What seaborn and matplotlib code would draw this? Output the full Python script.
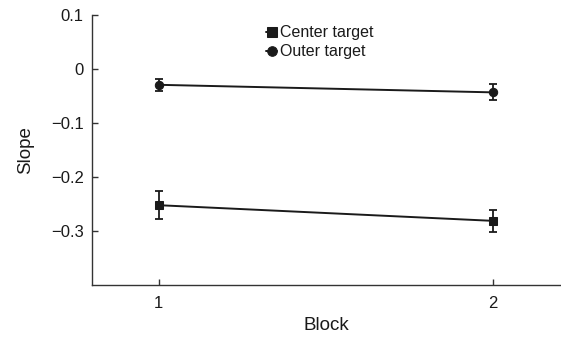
import matplotlib
matplotlib.use("Agg")
import matplotlib.pyplot as plt
import seaborn as sns
import pandas as pd

# Mean slope per block, with error bar half-widths
blocks = [1, 2]
center_slope = [-0.252, -0.281]
center_err = [0.026, 0.020]
outer_slope = [-0.029, -0.043]
outer_err = [0.011, 0.015]
series_names = ["Center target", "Outer target"]
y_ticks = [0.1, 0.0, -0.1, -0.2, -0.3]

df = pd.DataFrame({
    "Block": blocks * 2,
    "Slope": center_slope + outer_slope,
    "Target": [series_names[0]] * 2 + [series_names[1]] * 2,
})

sns.set_style("white")
plt.rcParams["font.family"] = ["Liberation Sans", "DejaVu Sans"]

fig = plt.figure(figsize=(5.61, 3.37), dpi=100)
ax = fig.add_axes([0.164, 0.154, 0.834, 0.801])

ink = "#1a1a1a"
for slope, err in ((center_slope, center_err), (outer_slope, outer_err)):
    ax.errorbar(blocks, slope, yerr=err, fmt="none", ecolor=ink,
                elinewidth=1.3, capsize=3.2, capthick=1.3, zorder=2)

sns.lineplot(data=df, x="Block", y="Slope", style="Target",
             markers={series_names[0]: "s", series_names[1]: "o"},
             dashes=False, color=ink, linewidth=1.4, markersize=6,
             markeredgecolor=ink, ax=ax, zorder=3)

ax.set_xlim(0.8, 2.2)
ax.set_ylim(-0.4, 0.1)
ax.set_xticks(blocks)
ax.set_yticks(y_ticks)
ax.set_yticklabels(["0.1", "0", "\u22120.1", "\u22120.2", "\u22120.3"])
ax.set_xlabel("Block", fontsize=13.5, color=ink, labelpad=4)
ax.set_ylabel("Slope", fontsize=13.5, color=ink, labelpad=12)
ax.tick_params(axis="both", which="major", direction="in", length=4, width=1,
               bottom=True, left=True, colors="#333333", labelcolor=ink,
               labelsize=12)
ax.tick_params(axis="x", pad=8)
ax.tick_params(axis="y", pad=6)

for side in ("top", "right"):
    ax.spines[side].set_visible(False)
for side in ("left", "bottom"):
    ax.spines[side].set_color("#333333")
    ax.spines[side].set_linewidth(1.0)

leg = ax.legend(loc="upper left", bbox_to_anchor=(0.372, 0.962), frameon=False,
                fontsize=11.5, handlelength=0.7, handletextpad=0.15,
                labelspacing=0.25, borderpad=0, borderaxespad=0,
                markerscale=1.15)
for t in leg.get_texts():
    t.set_color(ink)

fig.savefig("out.png", dpi=100)
